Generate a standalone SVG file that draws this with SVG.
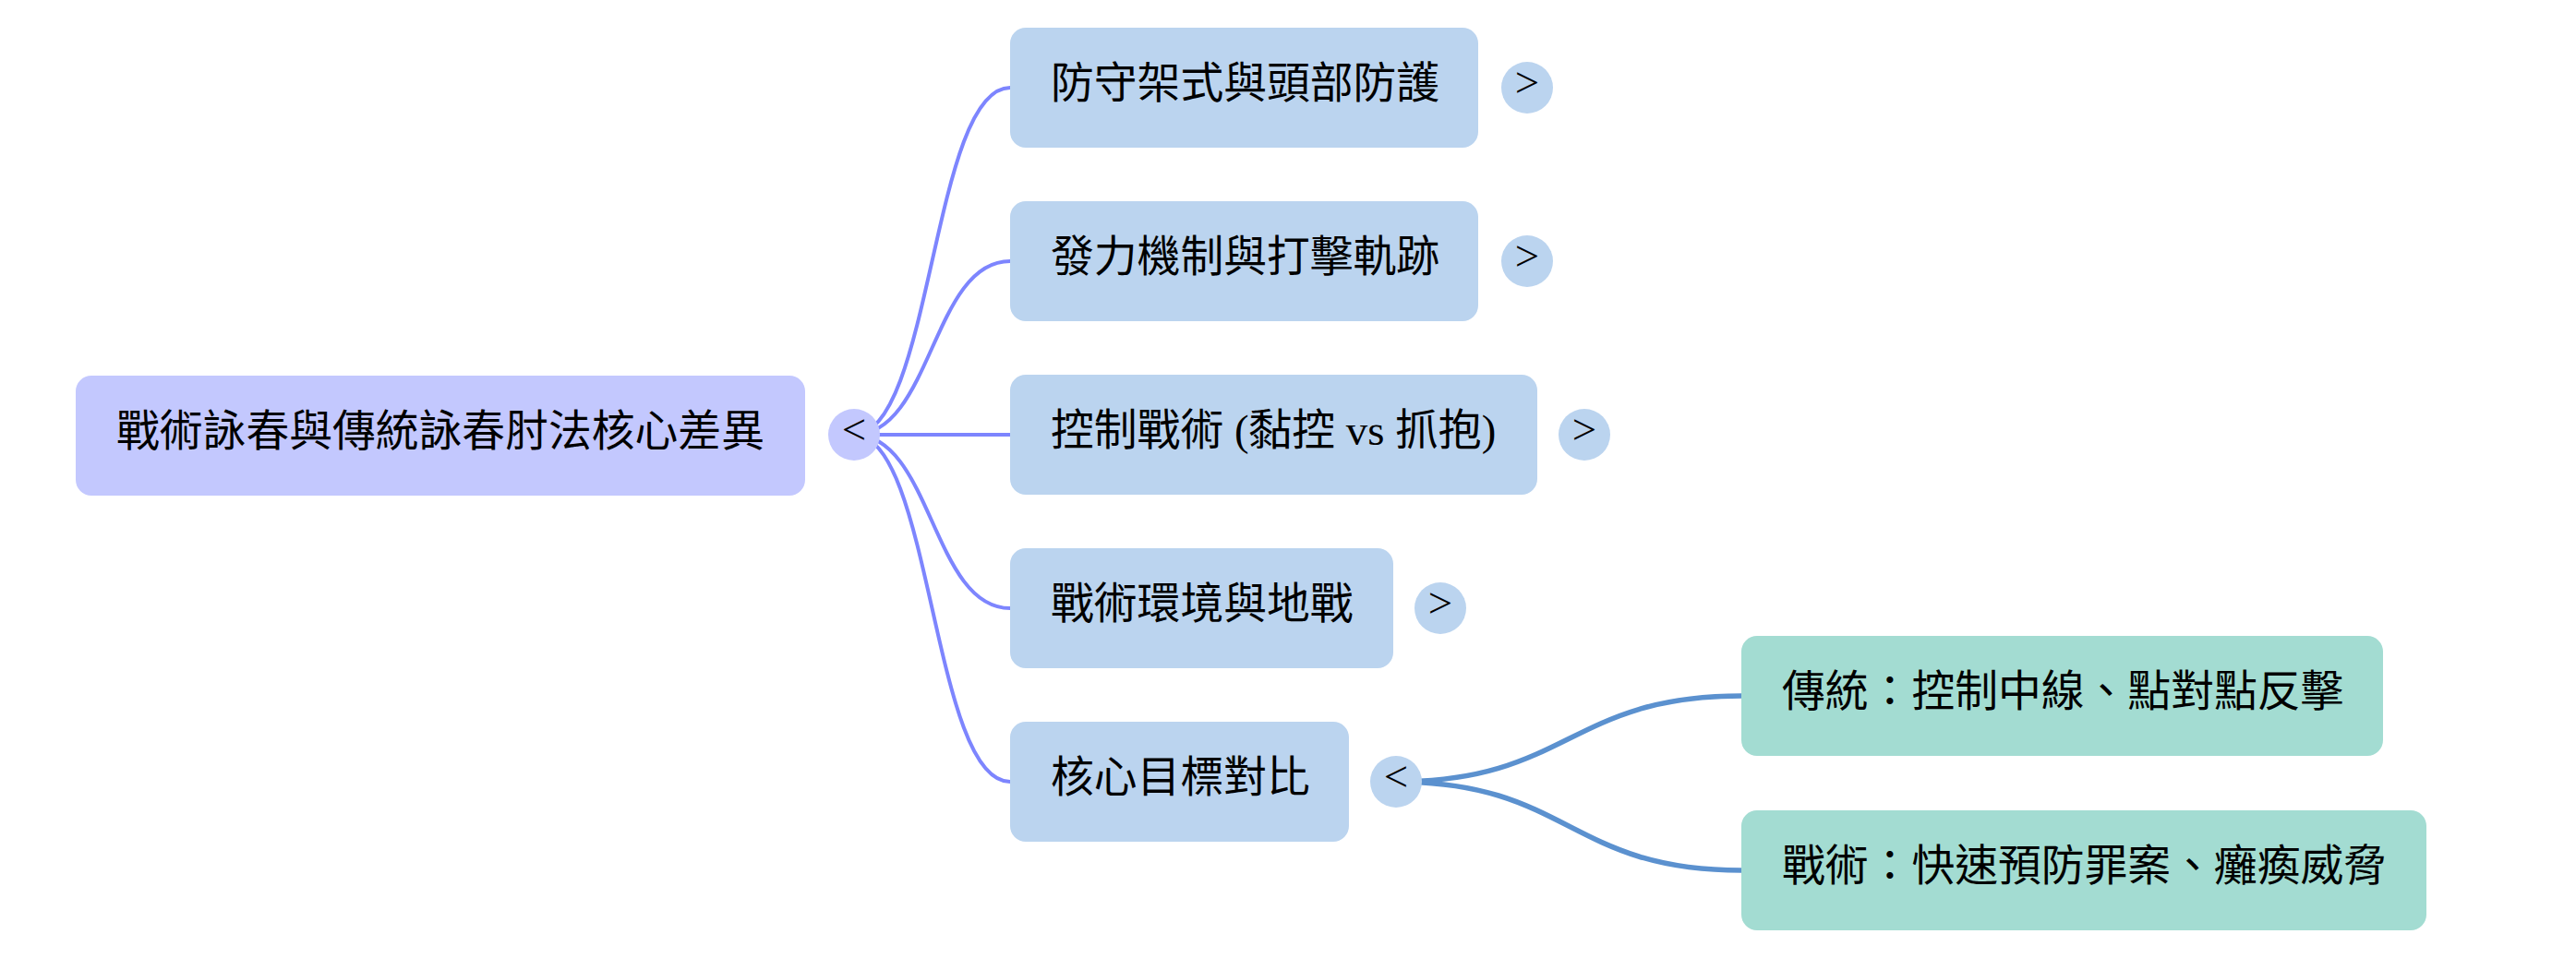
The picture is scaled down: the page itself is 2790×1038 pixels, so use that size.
<svg xmlns="http://www.w3.org/2000/svg" width="2790" height="1038" viewBox="0 0 2790 1038">
<style>
text{font-family:"Liberation Serif","Noto Sans CJK TC",serif;font-size:46.8px;fill:#000}
.root{fill:#c3c8fe}
.l1{fill:#bbd4ef}
.l2{fill:#a3dcd2}
.e1{fill:none;stroke:#7d85fe;stroke-width:4}
.e2{fill:none;stroke:#5b91cf;stroke-width:5.5}
.tg{text-anchor:middle}
</style>
<rect width="2790" height="1038" fill="#fff"/>
<g id="connectors">
<path class="e1" d="M925 471 C1009.5 471 1009.5 95 1094 95"/>
<path class="e1" d="M925 471 C1009.5 471 1009.5 283 1094 283"/>
<path class="e1" d="M925 471 L1094 471"/>
<path class="e1" d="M925 471 C1009.5 471 1009.5 659 1094 659"/>
<path class="e1" d="M925 471 C1009.5 471 1009.5 847 1094 847"/>
<path class="e2" d="M1512 847 C1699 847 1699 754 1886 754"/>
<path class="e2" d="M1512 847 C1699 847 1699 943 1886 943"/>
</g>
<g id="root">
<rect class="root" x="82" y="407" width="790" height="130" rx="17"/>
<text x="126" y="483">戰術詠春與傳統詠春肘法核心差異</text>
<circle class="root" cx="925" cy="471" r="28"/>
<text class="tg" x="925" y="481">&lt;</text>
</g>
<g id="n1">
<rect class="l1" x="1094" y="30" width="507" height="130" rx="17"/>
<text x="1138" y="106">防守架式與頭部防護</text>
<circle class="l1" cx="1654" cy="95" r="28"/>
<text class="tg" x="1654" y="105">&gt;</text>
</g>
<g id="n2">
<rect class="l1" x="1094" y="218" width="507" height="130" rx="17"/>
<text x="1138" y="294">發力機制與打擊軌跡</text>
<circle class="l1" cx="1654" cy="283" r="28"/>
<text class="tg" x="1654" y="293">&gt;</text>
</g>
<g id="n3">
<rect class="l1" x="1094" y="406" width="571" height="130" rx="17"/>
<text x="1138" y="482">控制戰術 (黏控 vs 抓抱)</text>
<circle class="l1" cx="1716" cy="471" r="28"/>
<text class="tg" x="1716" y="481">&gt;</text>
</g>
<g id="n4">
<rect class="l1" x="1094" y="594" width="415" height="130" rx="17"/>
<text x="1138" y="670">戰術環境與地戰</text>
<circle class="l1" cx="1560" cy="659" r="28"/>
<text class="tg" x="1560" y="669">&gt;</text>
</g>
<g id="n5">
<rect class="l1" x="1094" y="782" width="367" height="130" rx="17"/>
<text x="1138" y="858">核心目標對比</text>
<circle class="l1" cx="1512" cy="847" r="28"/>
<text class="tg" x="1512" y="857">&lt;</text>
</g>
<g id="c1">
<rect class="l2" x="1886" y="689" width="695" height="130" rx="17"/>
<text x="1930" y="765">傳統：控制中線、點對點反擊</text>
</g>
<g id="c2">
<rect class="l2" x="1886" y="878" width="742" height="130" rx="17"/>
<text x="1930" y="954">戰術：快速預防罪案、癱瘓威脅</text>
</g>
</svg>
